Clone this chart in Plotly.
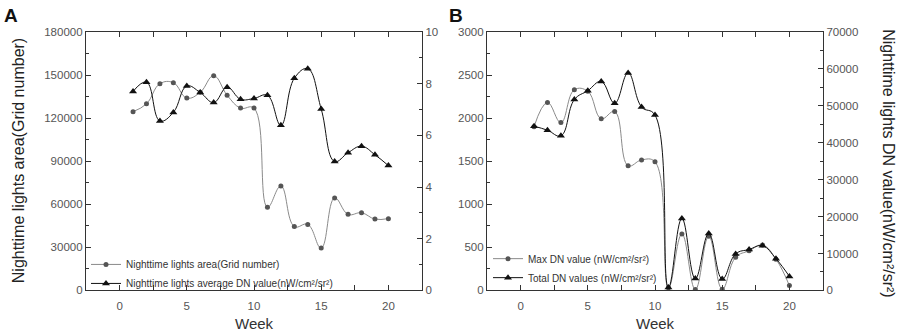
import plotly.graph_objects as go

weeks = list(range(1, 21))
area_grid = [124500, 130000, 144000, 144700, 134000, 138000, 149600, 136000, 127000, 127000,
             58000, 72700, 44500, 46000, 29500, 64400, 53000, 54100, 49700, 50000]
avg_dn = [7.70, 8.06, 6.56, 6.89, 7.91, 7.66, 7.27, 7.86, 7.40, 7.43,
          7.55, 6.39, 8.21, 8.58, 7.02, 4.99, 5.33, 5.58, 5.25, 4.83]
max_dn = [1900, 2181, 1949, 2330, 2312, 1994, 2076, 1448, 1515, 1493,
          30, 655, 10, 628, 15, 385, 460, 527, 363, 56]
total_dn = [44500, 43400, 41900, 51700, 54100, 56600, 50700, 58900, 49700, 47500,
            800, 19500, 3200, 15400, 3100, 9900, 11100, 12100, 8600, 3800]

W, H = 899, 335
FONT = "Liberation Sans, Arial, sans-serif"
GRAY_LINE = "#8a8a8a"
GRAY_MK = "#555555"
BLACK = "#111111"
AX = "#333333"
TICKC = "#555555"

fig = go.Figure()

fig.add_trace(go.Scatter(x=weeks, y=area_grid, mode="lines+markers", name="Nighttime lights area(Grid number)",
                         line=dict(color=GRAY_LINE, width=1, shape="spline", smoothing=1.2),
                         marker=dict(symbol="circle", size=5, color=GRAY_MK),
                         xaxis="x", yaxis="y", legend="legend"))
fig.add_trace(go.Scatter(x=weeks, y=avg_dn, mode="lines+markers",
                         name="Nighttime lights average DN value(nW/cm²/sr²)",
                         line=dict(color=BLACK, width=1, shape="spline", smoothing=1.2),
                         marker=dict(symbol="triangle-up", size=7, color=BLACK),
                         xaxis="x", yaxis="y2", legend="legend"))
fig.add_trace(go.Scatter(x=weeks, y=max_dn, mode="lines+markers", name="Max DN value (nW/cm²/sr²)",
                         line=dict(color=GRAY_LINE, width=1, shape="spline", smoothing=1.2),
                         marker=dict(symbol="circle", size=5, color=GRAY_MK),
                         xaxis="x2", yaxis="y3", legend="legend2"))
fig.add_trace(go.Scatter(x=weeks, y=total_dn, mode="lines+markers", name="Total DN values (nW/cm²/sr²)",
                         line=dict(color=BLACK, width=1, shape="spline", smoothing=1.2),
                         marker=dict(symbol="triangle-up", size=7, color=BLACK),
                         xaxis="x2", yaxis="y4", legend="legend2"))

yd = [(H - 295) / H, (H - 27) / H]
xdA = [86 / W, 422 / W]
xdB = [487 / W, 823 / W]

tickfont = dict(family=FONT, size=11.5, color=TICKC)

def xax(domain, anchor):
    return dict(domain=domain, anchor=anchor, range=[-2.5, 22.5], tickmode="linear", tick0=0, dtick=5,
                showline=True, linecolor=AX, linewidth=1.2, mirror="ticks", ticks="inside", ticklen=5,
                tickcolor=AX, tickwidth=1, showgrid=False, zeroline=False, tickfont=tickfont,
                ticklabelstandoff=5,
                minor=dict(ticks="inside", ticklen=5, dtick=2.5, tick0=0, tickcolor=AX, showgrid=False))

def yax(rng, dtick, anchor, side="left", overlaying=None, domain=None):
    d = dict(range=rng, tickmode="linear", tick0=0, dtick=dtick, anchor=anchor, side=side,
             showline=True, linecolor=AX, linewidth=1.2, ticks="inside", ticklen=5, tickcolor=AX,
             tickwidth=1, showgrid=False, zeroline=False, tickfont=tickfont, tickformat="d",
             minor=dict(ticks="inside", ticklen=3, dtick=dtick / 2, tick0=0, tickcolor=AX, showgrid=False))
    if overlaying:
        d["overlaying"] = overlaying
    if domain:
        d["domain"] = domain
    return d

fig.update_layout(
    width=W, height=H, margin=dict(l=0, r=0, t=0, b=0),
    paper_bgcolor="white", plot_bgcolor="white",
    font=dict(family=FONT, color="#333333"),
    xaxis=xax(xdA, "y"),
    xaxis2=xax(xdB, "y3"),
    yaxis=yax([0, 180000], 30000, "x", domain=yd),
    yaxis2=yax([0, 10], 2, "x", side="right", overlaying="y"),
    yaxis3=yax([0, 3000], 500, "x2", domain=yd),
    yaxis4=yax([0, 70000], 10000, "x2", side="right", overlaying="y3"),
    legend=dict(x=86 / W, y=(H - 253) / H, xanchor="left", yanchor="top", bgcolor="rgba(0,0,0,0)",
                font=dict(family=FONT, size=10, color="#333333"), itemwidth=30, tracegroupgap=0),
    legend2=dict(x=488 / W, y=(H - 247) / H, xanchor="left", yanchor="top", bgcolor="rgba(0,0,0,0)",
                 font=dict(family=FONT, size=10, color="#333333"), itemwidth=30, tracegroupgap=0),
    showlegend=True,
)

ann = [
    dict(text="<b>A</b>", x=2 / W, y=1 + 3 / H, xanchor="left", yanchor="top", font=dict(size=19, color="#111")),
    dict(text="<b>B</b>", x=447 / W, y=1 + 3 / H, xanchor="left", yanchor="top", font=dict(size=19, color="#111")),
    dict(text="Nighttime lights area(Grid number)", x=18 / W, y=(H - 161) / H, textangle=-90,
         xanchor="center", yanchor="middle", font=dict(size=16, color="#222")),
    dict(text="Nighttime lights DN value(nW/cm²/sr²)", x=889 / W, y=(H - 163) / H, textangle=90,
         xanchor="center", yanchor="middle", font=dict(size=16, color="#222")),
    dict(text="Week", x=(86 + 422) / 2 / W, y=(H - 329) / H, xanchor="center", yanchor="middle",
         font=dict(size=15, color="#333")),
    dict(text="Week", x=(487 + 823) / 2 / W, y=(H - 329) / H, xanchor="center", yanchor="middle",
         font=dict(size=15, color="#333")),
]
for a in ann:
    a.update(xref="paper", yref="paper", showarrow=False)
    a["font"]["family"] = FONT
fig.update_layout(annotations=ann)

fig.write_html("out.html", config={"displayModeBar": False},
               post_script="document.body.style.margin='0';document.body.style.overflow='hidden';")
